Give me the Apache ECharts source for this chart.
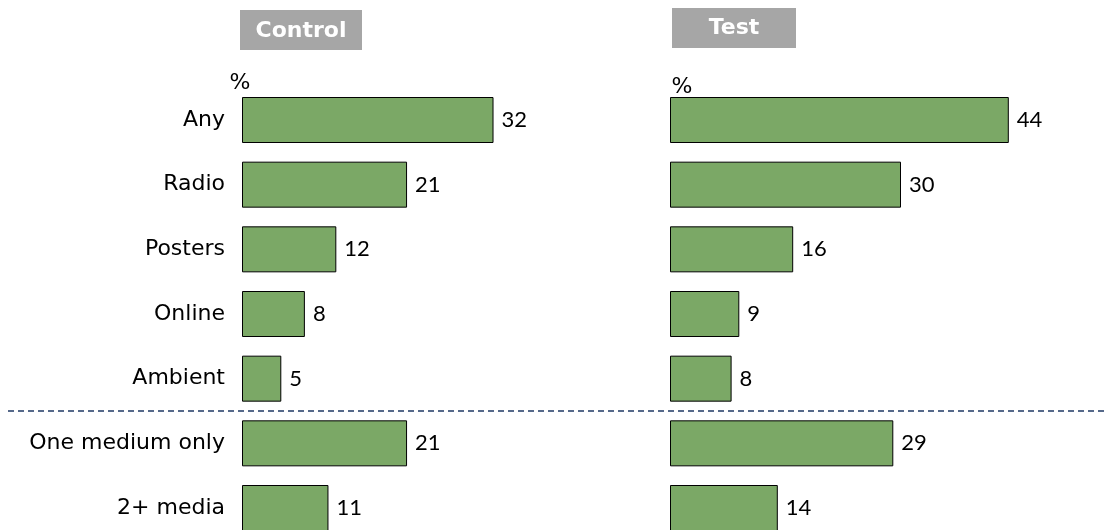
<!DOCTYPE html>
<html>
<head>
<meta charset="utf-8">
<script src="https://cdn.jsdelivr.net/npm/echarts@6/dist/echarts.min.js"></script>
<style>
html,body{margin:0;padding:0;background:#fff;}
#main{width:1104px;height:530px;}
</style>
</head>
<body>
<div id="main"></div>
<script>
const categories = ['Any', 'Radio', 'Posters', 'Online', 'Ambient', 'One medium only', '2+ media'];
const controlValues = [32, 21, 12, 8, 5, 21, 11];
const testValues = [44, 30, 16, 9, 8, 29, 14];
const panelTitles = ['Control', 'Test'];
const unitLabel = '%';

const chart = echarts.init(document.getElementById('main'), null, {renderer: 'canvas'});

const barStyle = {color: '#7ba866', borderColor: '#000', borderWidth: 1};
const labelStyle = {show: true, position: 'right', distance: 8, color: '#000', fontFamily: 'Lato', fontSize: 22};

const option = {
  animation: false,
  backgroundColor: '#fff',
  grid: [
    {left: 242, top: 120, width: 393, height: 388},
    {left: 670, top: 120, width: 385, height: 388}
  ],
  xAxis: [
    {type: 'value', gridIndex: 0, min: 0, max: 50, show: false},
    {type: 'value', gridIndex: 1, min: 0, max: 50, show: false}
  ],
  yAxis: [
    {type: 'category', gridIndex: 0, data: categories, inverse: true, boundaryGap: false,
     axisLine: {show: false}, axisTick: {show: false}, splitLine: {show: false},
     axisLabel: {margin: 17, color: '#000', fontFamily: 'DejaVu Sans', fontSize: 22}},
    {type: 'category', gridIndex: 1, data: categories, inverse: true, boundaryGap: false,
     axisLine: {show: false}, axisTick: {show: false}, splitLine: {show: false},
     axisLabel: {show: false}}
  ],
  series: [
    {type: 'bar', xAxisIndex: 0, yAxisIndex: 0, data: controlValues, barWidth: 46,
     itemStyle: barStyle, label: labelStyle},
    {type: 'bar', xAxisIndex: 1, yAxisIndex: 1, data: testValues, barWidth: 46,
     itemStyle: barStyle, label: labelStyle}
  ],
  graphic: [
    {type: 'rect', shape: {x: 240, y: 10, width: 122, height: 40}, style: {fill: '#a6a6a6'}},
    {type: 'text', x: 301, y: 31, style: {text: panelTitles[0], fill: '#fff', font: 'bold 22px "DejaVu Sans"', align: 'center', verticalAlign: 'middle'}},
    {type: 'rect', shape: {x: 672, y: 8, width: 124, height: 40}, style: {fill: '#a6a6a6'}},
    {type: 'text', x: 734, y: 28, style: {text: panelTitles[1], fill: '#fff', font: 'bold 22px "DejaVu Sans"', align: 'center', verticalAlign: 'middle'}},
    {type: 'text', x: 240, y: 83, style: {text: unitLabel, fill: '#000', font: '22px "DejaVu Sans"', align: 'center', verticalAlign: 'middle'}},
    {type: 'text', x: 682, y: 87, style: {text: unitLabel, fill: '#000', font: '22px "DejaVu Sans"', align: 'center', verticalAlign: 'middle'}}
  ]
};
chart.setOption(option);

// separator between single-medium rows and summary rows
const yA = chart.convertToPixel({yAxisIndex: 0}, 'Ambient');
const yB = chart.convertToPixel({yAxisIndex: 0}, 'One medium only');
const ySep = (yA + yB) / 2;
chart.setOption({
  graphic: option.graphic.concat([
    {type: 'line', shape: {x1: 8, y1: ySep, x2: 1104, y2: ySep},
     style: {stroke: '#1f3864', lineWidth: 1.5, lineDash: [6, 4]}}
  ])
});
</script>
</body>
</html>
